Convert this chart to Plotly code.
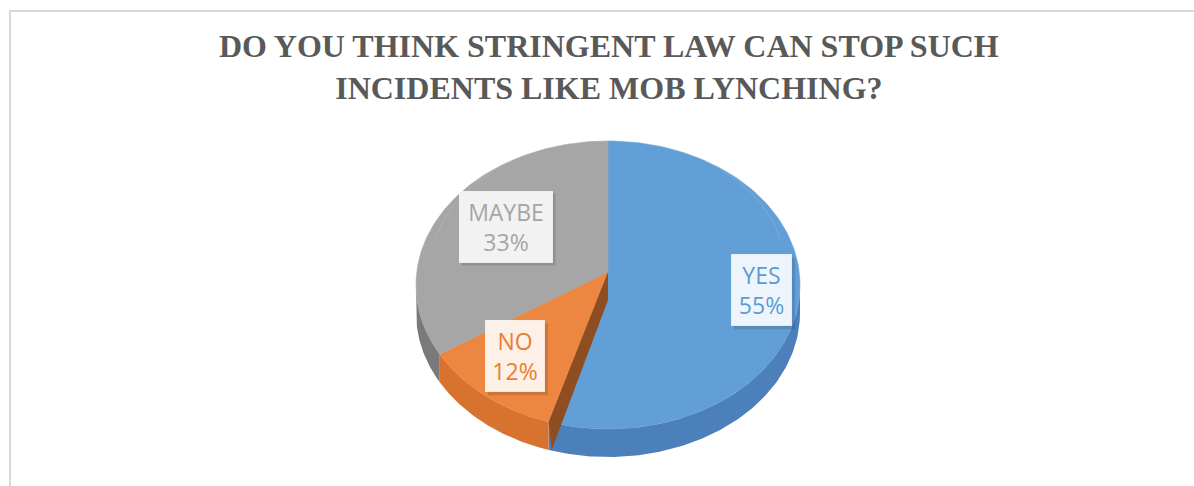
import numpy as np
import plotly.graph_objects as go

# ---- data ----
CATEGORIES = ["YES", "NO", "MAYBE"]
SHARES = [55, 12, 33]
TITLE_LINES = ["DO YOU THINK STRINGENT LAW CAN STOP SUCH", "INCIDENTS LIKE MOB LYNCHING?"]

# ---- styling ----
TOP_COLORS = ["#639FD7", "#EC8640", "#A6A6A6"]
SIDE_COLORS = ["#4C80BA", "#D7722F", "#7A7A7A"]
TEXT_COLORS = ["#5B9BD5", "#ED7D31", "#A5A5A5"]
BOX_FILLS = ["#EEF4FB", "#FDF0E7", "#F2F2F2"]
BOX_WIDTHS = [47, 46, 80]
LABEL_RADIUS = [0.81, 0.76, 0.62]
CUT_FACE_COLOR = "#8E4E22"

W, H = 1194, 486
CX, CY = 608, 285          # centre of the top ellipse
RX, RY = 192, 144          # semi-axes of the top ellipse
AX, AY = 608, 272          # apex where the slices meet
DEPTH = 28                 # thickness of the disc


def rim(theta):
    t = np.radians(theta)
    return CX + RX * np.sin(t), CY - RY * np.cos(t)


def arc(t0, t1, n=120):
    th = np.linspace(t0, t1, n)
    xs, ys = rim(th)
    return list(xs), list(ys)


total = float(sum(SHARES))
bounds = []
acc = 0.0
for v in SHARES:
    start = acc / total * 360.0
    acc += v
    bounds.append((start, acc / total * 360.0))

fig = go.Figure()

# side walls (only the front half of the disc is visible)
for (t0, t1), col in zip(bounds, SIDE_COLORS):
    a0, a1 = max(t0, 90.0), min(t1, 270.0)
    if a1 <= a0:
        continue
    xs, ys = arc(a0, a1)
    px = xs + xs[::-1]
    py = ys + [y + DEPTH for y in ys[::-1]]
    fig.add_trace(go.Scatter(x=px + [px[0]], y=py + [py[0]], mode="lines",
                             fill="toself", fillcolor=col,
                             line=dict(width=0, color=col), hoverinfo="skip"))

# top faces
for (t0, t1), col, name in zip(bounds, TOP_COLORS, CATEGORIES):
    xs, ys = arc(t0, t1)
    px = [AX] + xs + [AX]
    py = [AY] + ys + [AY]
    fig.add_trace(go.Scatter(x=px, y=py, mode="lines", fill="toself",
                             fillcolor=col, line=dict(width=0.6, color=col),
                             name=name, hoverinfo="skip"))

# faint bevel highlight on the upper part of the top face
th = np.linspace(-75, 75, 100)
t = np.radians(th)
fig.add_trace(go.Scatter(x=CX + RX * 0.93 * np.sin(t), y=CY - 12 - RY * 0.93 * np.cos(t),
                         mode="lines", line=dict(width=1, color="rgba(255,255,255,0.12)"),
                         hoverinfo="skip"))

# cut face of the NO slice where it meets YES
cut = bounds[1][0]
rx0, ry0 = rim(cut)
fig.add_trace(go.Scatter(x=[AX, rx0, rx0 + 3, AX, AX],
                         y=[AY, ry0, ry0 + DEPTH, AY + DEPTH, AY],
                         mode="lines", fill="toself", fillcolor=CUT_FACE_COLOR,
                         line=dict(width=0, color=CUT_FACE_COLOR), hoverinfo="skip"))

shapes = [
    dict(type="line", xref="x", yref="y", x0=10, x1=10, y0=10, y1=H,
         line=dict(color="#D9D9D9", width=2)),
    dict(type="line", xref="x", yref="y", x0=9, x1=W, y0=11, y1=11,
         line=dict(color="#D9D9D9", width=2)),
]
annotations = []
BOX_H = 58
PAD = 6
for (t0, t1), name, v, r, tc, bf, bw in zip(bounds, CATEGORIES, SHARES, LABEL_RADIUS,
                                            TEXT_COLORS, BOX_FILLS, BOX_WIDTHS):
    mid = np.radians((t0 + t1) / 2)
    lx = AX + r * RX * np.sin(mid)
    ly = AY - r * RY * np.cos(mid)
    hw = bw / 2 + PAD + 1
    hh = BOX_H / 2 + PAD + 1
    shapes.append(dict(type="rect", xref="x", yref="y", layer="above",
                       x0=lx - hw + 3, x1=lx + hw + 3, y0=ly - hh + 3, y1=ly + hh + 3,
                       fillcolor="rgba(0,0,0,0.13)", line=dict(width=0)))
    annotations.append(dict(x=lx, y=ly, xref="x", yref="y", showarrow=False,
                            text=f"{name}<br>{v}%", align="center",
                            font=dict(family="Open Sans", size=23, color=tc),
                            bgcolor=bf, bordercolor="rgba(255,255,255,0.7)",
                            borderwidth=1, borderpad=PAD, width=bw, height=BOX_H,
                            xanchor="center", yanchor="middle"))

annotations.append(dict(x=609, y=67, xref="x", yref="y", showarrow=False,
                        text="<b>" + "</b><br><b>".join(TITLE_LINES) + "</b>",
                        align="center",
                        font=dict(family="Liberation Serif", size=32, color="#595959"),
                        xanchor="center", yanchor="middle"))

fig.update_layout(
    width=W, height=H, autosize=False,
    margin=dict(l=0, r=0, t=0, b=0),
    paper_bgcolor="white", plot_bgcolor="white",
    showlegend=False,
    xaxis=dict(range=[0, W], visible=False, fixedrange=True),
    yaxis=dict(range=[H, 0], visible=False, fixedrange=True),
    shapes=shapes, annotations=annotations,
)

fig.write_html("out.html")
